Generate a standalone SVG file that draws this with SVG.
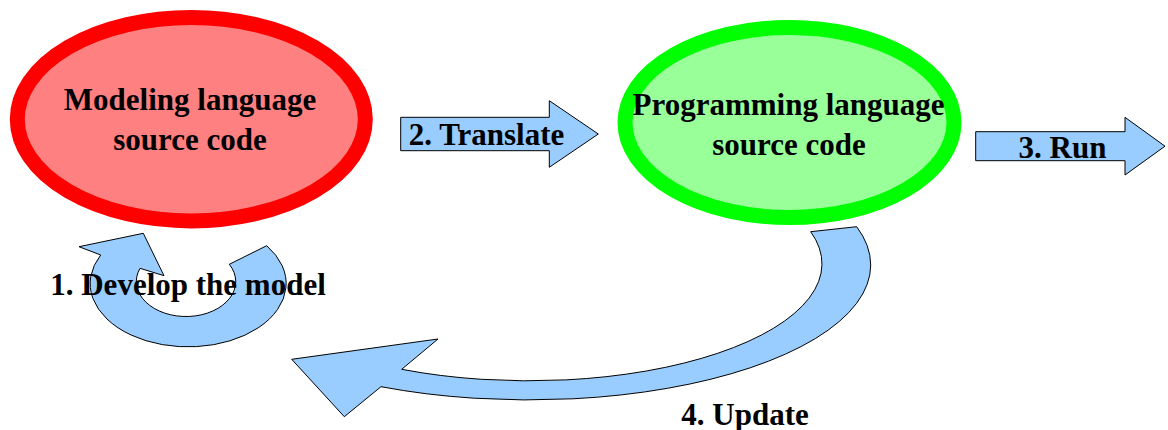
<svg xmlns="http://www.w3.org/2000/svg" width="1168" height="430" viewBox="0 0 1168 430">
<style>
  .lbl { font-family: "Liberation Serif", "Times New Roman", serif; font-weight: bold; font-size: 31px; fill: #000; }
  .arrow { fill: #99CCFF; stroke: #000; stroke-width: 1; stroke-linejoin: miter; }
</style>
<rect x="0" y="0" width="1168" height="430" fill="#fff"/>
<g id="node-modeling">
  <ellipse cx="191.3" cy="119.2" rx="174" ry="101.7" fill="#FF8080" stroke="#FF0000" stroke-width="15"/>
  <text class="lbl" x="190" y="110" text-anchor="middle">Modeling language</text>
  <text class="lbl" x="190" y="150" text-anchor="middle">source code</text>
</g>
<g id="node-programming">
  <ellipse cx="789.5" cy="122.5" rx="164.5" ry="95" fill="#99FF99" stroke="#00FF00" stroke-width="15"/>
  <text class="lbl" x="788.5" y="115" text-anchor="middle">Programming language</text>
  <text class="lbl" x="789" y="155" text-anchor="middle">source code</text>
</g>
<g id="connectors">
  <g id="edge-translate">
    <path class="arrow" d="M400.7,117.3 H549.3 V100.7 L598.3,134 L549.3,167.3 V150.7 H400.7 Z"/>
    <text class="lbl" x="486.5" y="145" text-anchor="middle">2. Translate</text>
  </g>
  <g id="edge-run">
    <path class="arrow" d="M975.7,131.7 H1125 V117.3 L1165,146.2 L1125,175 V160.7 H975.7 Z"/>
    <text class="lbl" x="1062.5" y="158.3" text-anchor="middle">3. Run</text>
  </g>
  <g id="edge-develop">
    <path class="arrow" d="M266.7,245.7 A98,63.3 0 1 1 100.7,255 L79,246.7 L143.3,233.3 L164,275.7 L140,268.3 A49.7,35 0 1 0 229.3,264.3 Z"/>
    <text class="lbl" x="188" y="295" text-anchor="middle">1. Develop the model</text>
  </g>
  <g id="edge-update">
    <path class="arrow" d="M856.7,226.7 A342,135 0 0 1 381,386.7 L344.3,416.7 L291.7,359.3 L438,339 L401.7,369.3 A293.3,117 0 0 0 810.7,231.7 Z"/>
    <text class="lbl" x="745" y="425" text-anchor="middle">4. Update</text>
  </g>
</g>
</svg>
